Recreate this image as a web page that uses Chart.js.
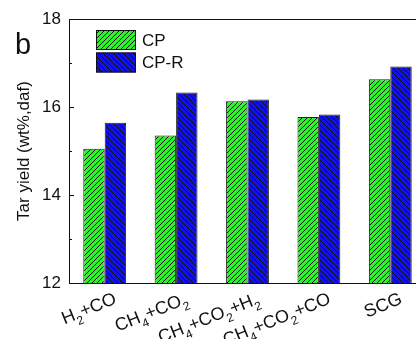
<!DOCTYPE html>
<html>
<head>
<meta charset="utf-8">
<script src="https://cdn.jsdelivr.net/npm/chart.js@4.4.1/dist/chart.umd.min.js"></script>
<style>
  html, body { margin: 0; padding: 0; background: #fff; overflow: hidden; }
  #wrap { position: relative; width: 430px; height: 339px; }
</style>
</head>
<body>
<div id="wrap"><canvas id="tarChart"></canvas></div>
<script>
// data
const categories = ["H_2+CO", "CH_4+CO_2", "CH_4+CO_2+H_2", "CH_4+CO_2+CO", "SCG"];
const seriesNames = ["CP", "CP-R"];
const cpValues = [15.05, 15.35, 16.13, 15.77, 16.63];
const cpRValues = [15.64, 16.33, 16.17, 15.83, 16.92];
const yTickValues = [12, 14, 16, 18];
const yTitle = "Tar yield (wt%,daf)";
const panelLetter = "b";

const FONT = "'Liberation Sans', Arial, sans-serif";

// hatched fills like the Origin plot
function hatch(color, dir) {
  const s = 5;
  const c = document.createElement("canvas");
  c.width = s; c.height = s;
  const g = c.getContext("2d");
  g.fillStyle = color;
  g.fillRect(0, 0, s, s);
  g.strokeStyle = "#111";
  g.lineWidth = 1;
  g.beginPath();
  if (dir === "/") {
    g.moveTo(-1, s + 1); g.lineTo(s + 1, -1);
    g.moveTo(-1, 1); g.lineTo(1, -1);
    g.moveTo(s - 1, s + 1); g.lineTo(s + 1, s - 1);
  } else {
    g.moveTo(-1, -1); g.lineTo(s + 1, s + 1);
    g.moveTo(s - 1, -1); g.lineTo(s + 1, 1);
    g.moveTo(-1, s - 1); g.lineTo(1, s + 1);
  }
  g.stroke();
  return g.createPattern(c, "repeat");
}

const greenFill = hatch("#2ef22e", "/");
const blueFill = hatch("#1212e6", "\\");

// draws "H_2+CO" style label with subscripts, rotated, anchored top-right
function drawSubLabel(ctx, text, x, y, angle) {
  const parts = text.split(/_(\d)/);
  const big = "18px " + FONT, small = "12px " + FONT;
  let w = 0;
  parts.forEach((p, i) => {
    ctx.font = i % 2 ? small : big;
    w += ctx.measureText(p).width;
  });
  ctx.save();
  ctx.translate(x, y);
  ctx.rotate(angle);
  ctx.fillStyle = "#111";
  ctx.textBaseline = "alphabetic";
  ctx.textAlign = "left";
  let cx = -w;
  parts.forEach((p, i) => {
    ctx.font = i % 2 ? small : big;
    ctx.fillText(p, cx, i % 2 ? 19 : 13);
    cx += ctx.measureText(p).width;
  });
  ctx.restore();
}

const decorPlugin = {
  id: "decor",
  afterDraw(chart) {
    const { ctx, chartArea, scales } = chart;
    const ys = scales.y, xs = scales.x;
    ctx.save();
    // top frame line
    ctx.strokeStyle = "#111";
    ctx.lineWidth = 1;
    ctx.beginPath();
    ctx.moveTo(chartArea.left, Math.round(chartArea.top) + 0.5);
    ctx.lineTo(chartArea.right, Math.round(chartArea.top) + 0.5);
    ctx.stroke();

    // inward ticks, major and minor
    for (let v = ys.min; v <= ys.max; v += 1) {
      const py = Math.round(ys.getPixelForValue(v)) + 0.5;
      const len = yTickValues.includes(v) ? 5 : 3;
      ctx.beginPath();
      ctx.moveTo(chartArea.left, py);
      ctx.lineTo(chartArea.left + len, py);
      ctx.stroke();
    }

    // category labels
    categories.forEach((lab, i) => {
      const px = xs.getPixelForValue(i);
      drawSubLabel(ctx, lab, px + 8, chartArea.bottom + 8, -22 * Math.PI / 180);
    });

    // legend inside the plot
    const fills = [greenFill, blueFill];
    seriesNames.forEach((name, i) => {
      const bx = 96, by = 30 + i * 22.5;
      ctx.fillStyle = fills[i];
      ctx.fillRect(bx, by, 40, 20);
      ctx.strokeStyle = "#111";
      ctx.strokeRect(bx + 0.5, by + 0.5, 39, 19);
      ctx.fillStyle = "#111";
      ctx.font = "17px " + FONT;
      ctx.textBaseline = "middle";
      ctx.textAlign = "left";
      ctx.fillText(name, 142, by + 11);
    });

    // panel letter
    ctx.font = "29px " + FONT;
    ctx.textBaseline = "alphabetic";
    ctx.fillText(panelLetter, 15, 54);
    ctx.restore();
  }
};

const ctx = document.getElementById("tarChart").getContext("2d");

new Chart(ctx, {
  type: "bar",
  data: {
    labels: categories.map(c => c.replace(/_/g, "")),
    datasets: [
      {
        label: seriesNames[0],
        data: cpValues,
        backgroundColor: greenFill,
        borderColor: "#222",
        borderWidth: 1,
        categoryPercentage: 0.6,
        barPercentage: 1.0
      },
      {
        label: seriesNames[1],
        data: cpRValues,
        backgroundColor: blueFill,
        borderColor: "#222",
        borderWidth: 1,
        categoryPercentage: 0.6,
        barPercentage: 1.0
      }
    ]
  },
  options: {
    responsive: true,
    maintainAspectRatio: false,
    animation: false,
    layout: { padding: { top: 19, right: 4, left: 0, bottom: 0 } },
    plugins: {
      legend: { display: false },
      tooltip: { enabled: false }
    },
    scales: {
      x: {
        grid: { display: false },
        border: { color: "#111", width: 1 },
        ticks: { display: false },
        afterFit: (s) => { s.height = 56; }
      },
      y: {
        min: 12,
        max: 18,
        grid: { display: false, drawTicks: false },
        border: { color: "#111", width: 1 },
        afterFit: (s) => { s.width = 69; },
        afterBuildTicks: (s) => { s.ticks = yTickValues.map(v => ({ value: v })); },
        ticks: {
          padding: 8,
          color: "#111",
          font: { family: FONT, size: 17 }
        },
        title: {
          display: true,
          text: yTitle,
          color: "#111",
          font: { family: FONT, size: 17 },
          padding: { top: 14, bottom: 0 }
        }
      }
    }
  },
  plugins: [decorPlugin]
});
</script>
</body>
</html>
